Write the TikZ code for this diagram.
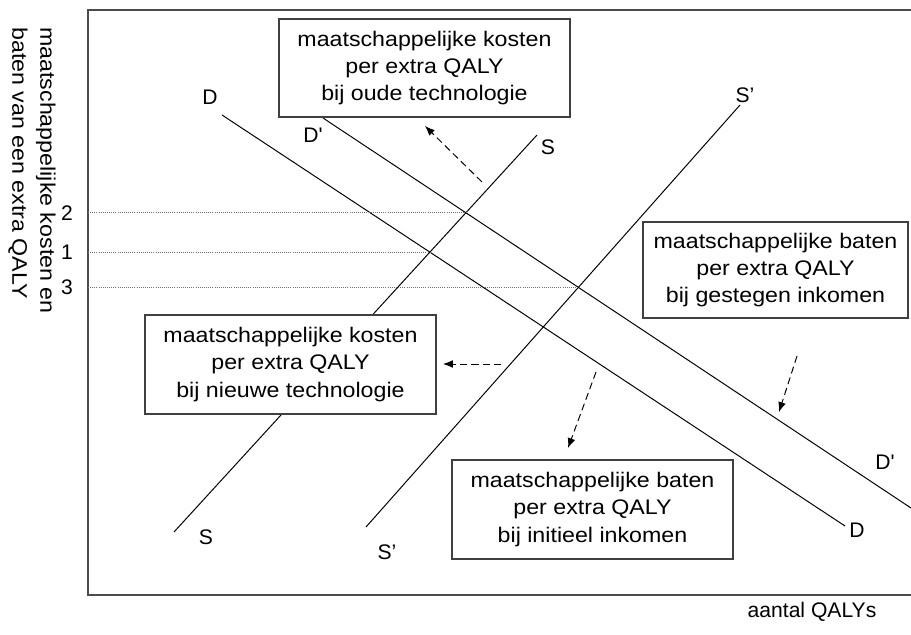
\documentclass[tikz,border=0pt]{standalone}
\usepackage{fontspec}
\setmainfont{Liberation Sans}
\newfontfamily\widefont[FakeStretch=1.1]{Liberation Sans}
\usetikzlibrary{arrows.meta,intersections}

\tikzset{
  qbox/.style={draw=black!75, fill=white, line width=0.8pt, align=center, inner sep=0pt,
    font=\widefont\fontsize{15}{19.5}\selectfont},
  schedule/.style={line width=0.7pt},
  guide/.style={black!55, densely dotted, line width=0.5pt},
  pointer/.style={dash pattern=on 5pt off 3pt, line width=0.7pt, -{Latex[length=7pt,width=5.5pt]}},
}

\begin{document}
\begin{tikzpicture}[x=0.025cm,y=-0.025cm,font=\fontsize{15}{19.5}\selectfont]
\useasboundingbox (0,0) rectangle (911,635);

% frame
\coordinate (O) at (88,595);
\draw[black!70, line width=1.1pt] (911,10) -- (88,10) -- (O) -- (911,595);

% axis labels
\node[rotate=-90, anchor=north west, align=left, inner sep=0pt,
  font=\widefont\fontsize{15}{20}\selectfont] (ylab) at (56,27)
  {maatschappelijke kosten en\\baten van een extra QALY};
\node (xlab) at (812,612) {aantal QALYs};

% demand and supply
\coordinate (D1) at (222,115);  \coordinate (D2) at (845,526);
\coordinate (Dp1) at (323,118); \coordinate (Dp2) at (911,508);
\coordinate (S1) at (174,532);  \coordinate (S2) at (537,135);
\coordinate (Sp1) at (366,527); \coordinate (Sp2) at (740,105);
\draw[schedule, name path=D] (D1) -- (D2);
\draw[schedule, name path=Dp] (Dp1) -- (Dp2);
\draw[schedule, name path=S] (S1) -- (S2);
\draw[schedule, name path=Sp] (Sp1) -- (Sp2);

\node (lD1) at (210,97) {D};
\node (lD2) at (857,530) {D};
\node (lDp1) at (313,135) {D\textquotesingle};
\node (lDp2) at (885,462) {D\textquotesingle};
\node (lS1) at (548,147) {S};
\node (lS2) at (206,537) {S};
\node (lSp1) at (745,95) {S’};
\node (lSp2) at (387,552) {S’};

% equilibria
\path[name intersections={of=Dp and S, by=E2}];
\path[name intersections={of=D and S, by=E1}];
\path[name intersections={of=Dp and Sp, by=E3}];
\draw[guide] (O |- E2) -- (E2);
\draw[guide] (O |- E1) -- (E1);
\draw[guide] (O |- E3) -- (E3);
\node (n2) at ([xshift=-0.525cm]O |- E2) {2};
\node (n1) at ([xshift=-0.525cm]O |- E1) {1};
\node (n3) at ([xshift=-0.525cm]O |- E3) {3};

% explanations
\node[qbox, minimum width=7.275cm, minimum height=2.45cm] (oud) at (424.5,68)
  {maatschappelijke kosten\\per extra QALY\\bij oude technologie};
\node[qbox, minimum width=6.625cm, minimum height=2.4cm] (gestegen) at (775.5,270)
  {maatschappelijke baten\\per extra QALY\\bij gestegen inkomen};
\node[qbox, minimum width=7.275cm, minimum height=2.475cm] (nieuw) at (290.5,364.5)
  {maatschappelijke kosten\\per extra QALY\\bij nieuwe technologie};
\node[qbox, minimum width=7.025cm, minimum height=2.475cm] (initieel) at (592.5,509.5)
  {maatschappelijke baten\\per extra QALY\\bij initieel inkomen};

\coordinate (a1s) at (482,182); \coordinate (a1e) at (425,126);
\coordinate (a2s) at (501,364); \coordinate (a2e) at (443,364);
\coordinate (a3s) at (596,372); \coordinate (a3e) at (568,448);
\coordinate (a4s) at (797,356); \coordinate (a4e) at (779,412);
\draw[pointer] (a1s) -- (a1e);
\draw[pointer] (a2s) -- (a2e);
\draw[pointer] (a3s) -- (a3e);
\draw[pointer] (a4s) -- (a4e);
\end{tikzpicture}
\end{document}
